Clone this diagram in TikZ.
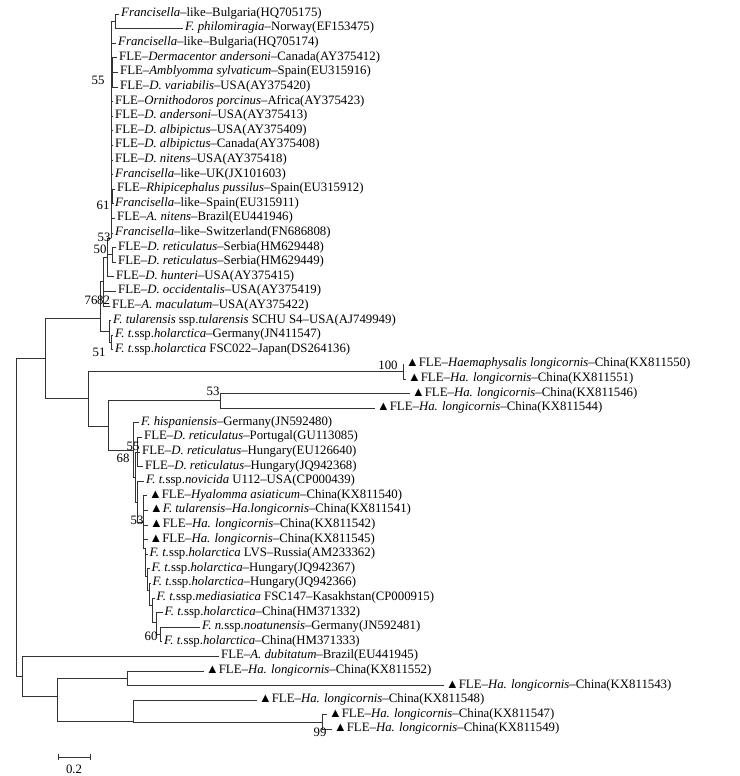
\documentclass[tikz,border=0pt]{standalone}
\usepackage{fontspec}
\setmainfont{Liberation Serif}
\newcommand\fs{\fontsize{12.8}{14}\selectfont}
\tikzset{
  br/.style={draw=black!80, line width=0.9pt},
  lab/.style={anchor=west, inner sep=0pt, text height=0.68em, text depth=0.2em, font=\fs, xshift=2pt},
  bs/.style={inner sep=0pt, font=\fs},
}
\begin{document}
\begin{tikzpicture}[x=1pt,y=-1pt]
\useasboundingbox (0,0) rectangle (739,776);
% internal nodes
\coordinate (R) at (16,517);
\coordinate (A) at (45,358);
\coordinate (N76) at (100,318);
\coordinate (N82) at (103,281);
\coordinate (N50) at (107,257);
\coordinate (Cm) at (111,238);
\coordinate (P12) at (115,21.3);
\coordinate (N55) at (112,72.4);
\coordinate (N61) at (112.5,196.5);
\coordinate (N53a) at (112.5,254.9);
\coordinate (T) at (109,331);
\coordinate (N51) at (111.5,342.5);
\coordinate (M) at (88,398);
\coordinate (N100) at (403,371.7);
\coordinate (Mp) at (108,426);
\coordinate (N53b) at (220,400.9);
\coordinate (N68) at (133,450);
\coordinate (X1) at (135.5,477);
\coordinate (N55b) at (137.5,452);
\coordinate (X2) at (137,502);
\coordinate (N53c) at (143,522);
\coordinate (X3) at (145.5,548);
\coordinate (X4) at (147.5,576);
\coordinate (X5) at (149,590);
\coordinate (X6) at (152,605);
\coordinate (X7) at (156,622);
\coordinate (N60) at (160,634.5);
\coordinate (B) at (22,676);
\coordinate (N57) at (57,696);
\coordinate (N127) at (127,678.3);
\coordinate (N133) at (133,721);
\coordinate (N99) at (322,722.1);
% tips
\coordinate (t1) at (119,14.0);
\coordinate (t2) at (183,28.6);
\coordinate (t3) at (116,43.2);
\coordinate (t4) at (117,57.8);
\coordinate (t5) at (118,72.4);
\coordinate (t6) at (118,87.0);
\coordinate (t7) at (113,101.6);
\coordinate (t8) at (113,116.2);
\coordinate (t9) at (113,130.8);
\coordinate (t10) at (113,145.4);
\coordinate (t11) at (113,160.0);
\coordinate (t12) at (113,174.6);
\coordinate (t13) at (115,189.2);
\coordinate (t14) at (113,203.8);
\coordinate (t15) at (115,218.4);
\coordinate (t16) at (113,233.0);
\coordinate (t17) at (116,247.6);
\coordinate (t18) at (116,262.2);
\coordinate (t19) at (114,276.8);
\coordinate (t20) at (116,291.4);
\coordinate (t21) at (110,306.0);
\coordinate (t22) at (111,320.6);
\coordinate (t23) at (113,335.2);
\coordinate (t24) at (113,349.8);
\coordinate (t25) at (404,364.4);
\coordinate (t26) at (406,379.0);
\coordinate (t27) at (410,393.6);
\coordinate (t28) at (375,408.2);
\coordinate (t29) at (139,422.8);
\coordinate (t30) at (142,437.4);
\coordinate (t31) at (140,452.0);
\coordinate (t32) at (143,466.6);
\coordinate (t33) at (144,481.2);
\coordinate (t34) at (147,495.8);
\coordinate (t35) at (148,510.4);
\coordinate (t36) at (148,525.0);
\coordinate (t37) at (147.5,539.6);
\coordinate (t38) at (147.5,554.2);
\coordinate (t39) at (149.5,568.8);
\coordinate (t40) at (150.5,583.4);
\coordinate (t41) at (154.5,598.0);
\coordinate (t42) at (162.5,612.6);
\coordinate (t43) at (200,627.2);
\coordinate (t44) at (162,641.8);
\coordinate (t45) at (219,656.4);
\coordinate (t46) at (204,671.0);
\coordinate (t47) at (444,685.6);
\coordinate (t48) at (257,700.2);
\coordinate (t49) at (327,714.8);
\coordinate (t50) at (332,729.4);
% branches
\foreach \p/\c in {R/A,R/B,A/N76,A/M,N76/N82,N76/T,N82/N50,N82/t20,N82/t21,
  N50/Cm,N50/N53a,N50/t19,Cm/P12,Cm/t3,Cm/N55,Cm/t7,Cm/t8,Cm/t9,Cm/t10,Cm/t11,Cm/t12,
  Cm/N61,Cm/t15,Cm/t16,P12/t1,P12/t2,N55/t4,N55/t5,N55/t6,N61/t13,N61/t14,
  N53a/t17,N53a/t18,T/t22,T/N51,N51/t23,N51/t24,
  M/N100,M/Mp,N100/t25,N100/t26,Mp/N53b,Mp/N68,N53b/t27,N53b/t28,
  N68/t29,N68/X1,X1/N55b,X1/X2,N55b/t30,N55b/t31,N55b/t32,X2/t33,X2/N53c,
  N53c/t34,N53c/t35,N53c/t36,N53c/t37,N53c/X3,X3/t38,X3/X4,X4/t39,X4/X5,
  X5/t40,X5/X6,X6/t41,X6/X7,X7/t42,X7/N60,N60/t43,N60/t44,
  B/t45,B/N57,N57/N127,N57/N133,N127/t46,N127/t47,N133/t48,N133/N99,N99/t49,N99/t50}
  \draw[br] (\p) |- (\c);
% leaf labels
\node[lab] (l1) at (t1) {\textit{Francisella}–like–Bulgaria(HQ705175)};
\node[lab] (l2) at (t2) {\textit{F. philomiragia}–Norway(EF153475)};
\node[lab] (l3) at (t3) {\textit{Francisella}–like–Bulgaria(HQ705174)};
\node[lab] (l4) at (t4) {FLE–\textit{Dermacentor andersoni}–Canada(AY375412)};
\node[lab] (l5) at (t5) {FLE–\textit{Amblyomma sylvaticum}–Spain(EU315916)};
\node[lab] (l6) at (t6) {FLE–\textit{D. variabilis}–USA(AY375420)};
\node[lab] (l7) at (t7) {FLE–\textit{Ornithodoros porcinus}–Africa(AY375423)};
\node[lab] (l8) at (t8) {FLE–\textit{D. andersoni}–USA(AY375413)};
\node[lab] (l9) at (t9) {FLE–\textit{D. albipictus}–USA(AY375409)};
\node[lab] (l10) at (t10) {FLE–\textit{D. albipictus}–Canada(AY375408)};
\node[lab] (l11) at (t11) {FLE–\textit{D. nitens}–USA(AY375418)};
\node[lab] (l12) at (t12) {\textit{Francisella}–like–UK(JX101603)};
\node[lab] (l13) at (t13) {FLE–\textit{Rhipicephalus pussilus}–Spain(EU315912)};
\node[lab] (l14) at (t14) {\textit{Francisella}–like–Spain(EU315911)};
\node[lab] (l15) at (t15) {FLE–\textit{A. nitens}–Brazil(EU441946)};
\node[lab] (l16) at (t16) {\textit{Francisella}–like–Switzerland(FN686808)};
\node[lab] (l17) at (t17) {FLE–\textit{D. reticulatus}–Serbia(HM629448)};
\node[lab] (l18) at (t18) {FLE–\textit{D. reticulatus}–Serbia(HM629449)};
\node[lab] (l19) at (t19) {FLE–\textit{D. hunteri}–USA(AY375415)};
\node[lab] (l20) at (t20) {FLE–\textit{D. occidentalis}–USA(AY375419)};
\node[lab] (l21) at (t21) {FLE–\textit{A. maculatum}–USA(AY375422)};
\node[lab] (l22) at (t22) {\textit{F. tularensis} ssp.\textit{tularensis} SCHU S4–USA(AJ749949)};
\node[lab] (l23) at (t23) {\textit{F. t.}ssp.\textit{holarctica}–Germany(JN411547)};
\node[lab] (l24) at (t24) {\textit{F. t.}ssp.\textit{holarctica} FSC022–Japan(DS264136)};
\node[lab] (l25) at (t25) {▲FLE–\textit{Haemaphysalis longicornis}–China(KX811550)};
\node[lab] (l26) at (t26) {▲FLE–\textit{Ha. longicornis}–China(KX811551)};
\node[lab] (l27) at (t27) {▲FLE–\textit{Ha. longicornis}–China(KX811546)};
\node[lab] (l28) at (t28) {▲FLE–\textit{Ha. longicornis}–China(KX811544)};
\node[lab] (l29) at (t29) {\textit{F. hispaniensis}–Germany(JN592480)};
\node[lab] (l30) at (t30) {FLE–\textit{D. reticulatus}–Portugal(GU113085)};
\node[lab] (l31) at (t31) {FLE–\textit{D. reticulatus}–Hungary(EU126640)};
\node[lab] (l32) at (t32) {FLE–\textit{D. reticulatus}–Hungary(JQ942368)};
\node[lab] (l33) at (t33) {\textit{F. t.}ssp.\textit{novicida} U112–USA(CP000439)};
\node[lab] (l34) at (t34) {▲FLE–\textit{Hyalomma asiaticum}–China(KX811540)};
\node[lab] (l35) at (t35) {▲\textit{F. tularensis}–\textit{Ha.longicornis}–China(KX811541)};
\node[lab] (l36) at (t36) {▲FLE–\textit{Ha. longicornis}–China(KX811542)};
\node[lab] (l37) at (t37) {▲FLE–\textit{Ha. longicornis}–China(KX811545)};
\node[lab] (l38) at (t38) {\textit{F. t.}ssp.\textit{holarctica} LVS–Russia(AM233362)};
\node[lab] (l39) at (t39) {\textit{F. t.}ssp.\textit{holarctica}–Hungary(JQ942367)};
\node[lab] (l40) at (t40) {\textit{F. t.}ssp.\textit{holarctica}–Hungary(JQ942366)};
\node[lab] (l41) at (t41) {\textit{F. t.}ssp.\textit{mediasiatica} FSC147–Kasakhstan(CP000915)};
\node[lab] (l42) at (t42) {\textit{F. t.}ssp.\textit{holarctica}–China(HM371332)};
\node[lab] (l43) at (t43) {\textit{F. n.}ssp.\textit{noatunensis}–Germany(JN592481)};
\node[lab] (l44) at (t44) {\textit{F. t.}ssp.\textit{holarctica}–China(HM371333)};
\node[lab] (l45) at (t45) {FLE–\textit{A. dubitatum}–Brazil(EU441945)};
\node[lab] (l46) at (t46) {▲FLE–\textit{Ha. longicornis}–China(KX811552)};
\node[lab] (l47) at (t47) {▲FLE–\textit{Ha. longicornis}–China(KX811543)};
\node[lab] (l48) at (t48) {▲FLE–\textit{Ha. longicornis}–China(KX811548)};
\node[lab] (l49) at (t49) {▲FLE–\textit{Ha. longicornis}–China(KX811547)};
\node[lab] (l50) at (t50) {▲FLE–\textit{Ha. longicornis}–China(KX811549)};
% bootstrap values
\node[bs] (b55a) at (98,80) {55};
\node[bs] (b61) at (103,205) {61};
\node[bs] (b53a) at (104,237) {53};
\node[bs] (b50) at (100,249) {50};
\node[bs] (b76) at (91,300) {76};
\node[bs] (b82) at (103.5,300) {82};
\node[bs] (b51) at (99,352) {51};
\node[bs] (b100) at (388,365) {100};
\node[bs] (b53b) at (213,391) {53};
\node[bs] (b55b) at (133,446) {55};
\node[bs] (b68) at (123,458) {68};
\node[bs] (b53c) at (137,520) {53};
\node[bs] (b60) at (151,636) {60};
\node[bs] (b99) at (320,732) {99};
% scale bar
\coordinate (s1) at (58,757);
\coordinate (s2) at (90,757);
\draw[br] (s1) -- (s2);
\draw[br] ([yshift=-3pt]s1) -- ([yshift=3pt]s1);
\draw[br] ([yshift=-3pt]s2) -- ([yshift=3pt]s2);
\node[bs] (sl) at (74,769) {0.2};
\end{tikzpicture}
\end{document}
